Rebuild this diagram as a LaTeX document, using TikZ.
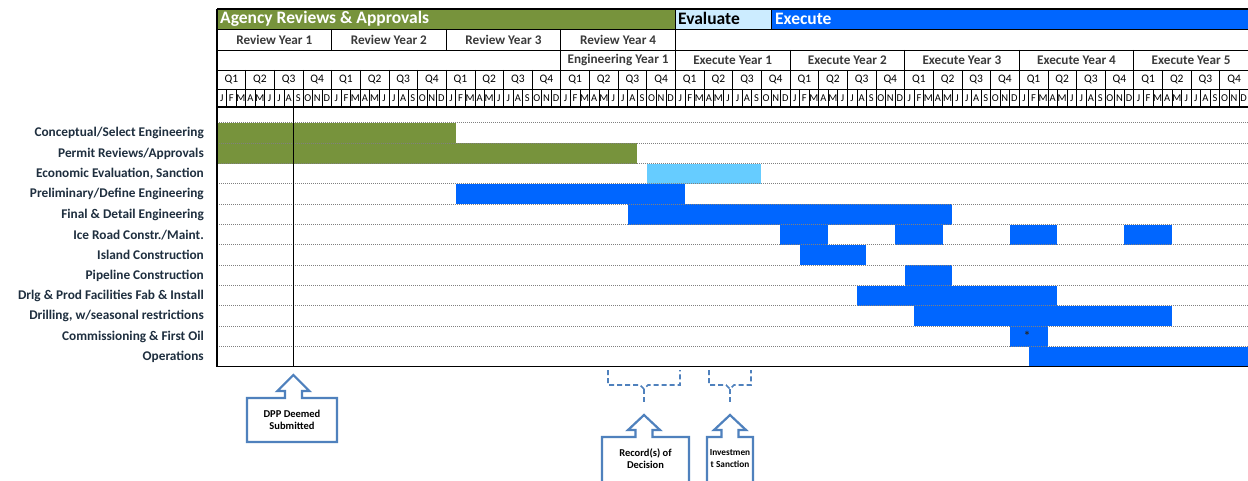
\documentclass[tikz,border=0pt]{standalone}
\usepackage{fontspec}
\setmainfont{Carlito}
\definecolor{agreen}{HTML}{77933C}
\definecolor{xblue}{HTML}{0066FF}
\definecolor{lblue}{HTML}{66CCFF}
\definecolor{evblue}{HTML}{CCECFF}
\definecolor{callout}{HTML}{4F81BD}
\definecolor{hdrtext}{HTML}{3A3A3A}
\definecolor{tasktext}{HTML}{1F2F3F}
\newcommand\mycallout[7]{%
  \draw[callbox] (#5,#4) -- ({#1-8.5},#4) -- ({#1-8.5},#3) -- ({#1-16},#3) -- (#1,#2)
    -- ({#1+16},#3) -- ({#1+8.5},#3) -- ({#1+8.5},#4) -- (#6,#4) -- (#6,#7) -- (#5,#7) -- cycle;}
\newcommand\mybracket[5]{%
  \draw[brk] (#1,#4) -- (#1,385) -- ({#3-4},385) -- (#3,389) -- ({#3+4},385) -- (#2,385) -- (#2,#4);
  \draw[brk] (#3,389) -- (#3,#5);}
\begin{document}
\begin{tikzpicture}[x=1pt,y=-1pt,
  hdr/.style={font=\bfseries\fontsize{13.2}{14}\selectfont, text=hdrtext, inner sep=0},
  qlab/.style={font=\fontsize{11.5}{12}\selectfont, text=black, inner sep=0},
  mlab/.style={font=\fontsize{10.5}{11}\selectfont, text=black, inner sep=0},
  task/.style={font=\bfseries\fontsize{13.3}{14}\selectfont, text=tasktext, anchor=east, inner sep=0},
  banner/.style={anchor=west, font=\bfseries\fontsize{17.5}{18}\selectfont, inner sep=0},
  callbox/.style={draw=callout, line width=2.2pt, fill=white, line join=miter},
  calltext/.style={font=\bfseries\fontsize{10.5}{12}\selectfont, align=center, text=black, inner sep=0},
  brk/.style={draw=callout, dash pattern=on 5pt off 3pt, line width=1.6pt},
  gridl/.style={line width=0.7pt, black},
  framel/.style={line width=1.8pt, black},
  dotl/.style={line width=1pt, black!50, densely dotted}
]
\def\Y{114.6}
\def\M{9.55}
\def\X{217}
\useasboundingbox (0,0) rectangle (1248,481);
\clip (0,0) rectangle (1248,481);
\fill[white] (0,0) rectangle (1248,481);

% ---- top banner row
\fill[agreen] (\X,9) rectangle ({\X+4*\Y},29);
\fill[evblue] ({\X+4*\Y},9) rectangle (771,29);
\fill[xblue] (771,9) rectangle (1252,29);
\node[banner, text=white] (agency) at (220,18.5) {Agency Reviews \& Approvals};
\node[banner, text=black] (evaluate) at (678,18.5) {Evaluate};
\node[banner, text=white] (execute) at (775,18.5) {Execute};
\draw[gridl] ({\X+4*\Y},9) -- ({\X+4*\Y},29);
\draw[gridl] (771,9) -- (771,29);

% ---- horizontal header lines
\foreach \yy in {29,50,70,89} \draw[gridl] (\X,\yy) -- (1252,\yy);

% ---- review years row
\foreach \i in {1,...,4} {
  \node[hdr] (rev\i) at ({\X+(\i-0.5)*\Y},39.5) {Review Year \i};
  \draw[gridl] ({\X+\i*\Y},29) -- ({\X+\i*\Y},50);
}
% ---- engineering / execute years row
\node[hdr] (eng1) at ({\X+3.5*\Y},60) {Engineering Year 1};
\draw[gridl] ({\X+3*\Y},50) -- ({\X+3*\Y},70);
\foreach \i in {1,...,5} {
  \node[hdr] (exe\i) at ({\X+(\i+3.5)*\Y},60) {Execute Year \i};
  \draw[gridl] ({\X+(\i+3)*\Y},50) -- ({\X+(\i+3)*\Y},70);
}
% ---- quarters row
\foreach \yy in {0,...,8} \foreach \q in {1,...,4} {
  \node[qlab] (q\yy-\q) at ({\X+\yy*\Y+(\q-0.5)*\Y/4},80) {Q\q};
  \draw[gridl] ({\X+\yy*\Y+\q*\Y/4},70) -- ({\X+\yy*\Y+\q*\Y/4},89);
}
% ---- months row
\foreach \yy in {0,...,8} \foreach \m [count=\k from 0] in {J,F,M,A,M,J,J,A,S,O,N,D} {
  \node[mlab] (m\yy-\k) at ({\X+(\yy*12+\k+0.5)*\M},98.5) {\m};
  \draw[gridl] ({\X+(\yy*12+\k+1)*\M},89) -- ({\X+(\yy*12+\k+1)*\M},107);
}

% ---- bars
\foreach \r/\s/\e/\c in {1/0/25/agreen, 2/0/44/agreen, 3/45/57/lblue, 4/25/49/xblue,
  5/43/77/xblue, 6/59/64/xblue, 6/71/76/xblue, 6/83/88/xblue, 6/95/100/xblue,
  7/61/68/xblue, 8/72/77/xblue, 9/67/88/xblue, 10/73/100/xblue, 11/83/87/xblue, 12/85/110/xblue}
  \fill[\c] ({\X+\s*\M},{123+(\r-1)*20.33}) rectangle ({\X+\e*\M},{123+\r*20.33});
\node[font=\bfseries\fontsize{13}{13}\selectfont, text=black!85, inner sep=0] (star) at (1027,335.5) {*};

% ---- dotted row lines
\foreach \r in {0,...,11} \draw[dotl] (\X,{123+\r*20.33}) -- (1250,{123+\r*20.33});

% ---- DPP line
\draw[line width=1pt] ({\X+8*\M},107) -- ({\X+8*\M},366.5);

% ---- frames
\draw[framel] (\X,9) -- (1252,9);
\draw[framel] (\X,107) -- (1252,107);
\draw[framel] (\X,366.5) -- (1252,366.5);
\draw[framel] (\X,9) -- (\X,366.5);

% ---- task labels
\foreach \t [count=\i] in {{Conceptual/Select Engineering}, {Permit Reviews/Approvals},
  {Economic Evaluation, Sanction}, {Preliminary/Define Engineering}, {Final \& Detail Engineering},
  {Ice Road Constr./Maint.}, {Island Construction}, {Pipeline Construction},
  {Drlg \& Prod Facilities Fab \& Install}, {Drilling, w/seasonal restrictions},
  {Commissioning \& First Oil}, {Operations}}
  \node[task] (task\i) at (204,{123+(\i-0.5)*20.33}) {\t};

% ---- callouts
\mycallout{293.4}{375}{391}{398}{247}{337}{442}
\node[calltext] (dpp) at (292,420) {DPP Deemed\\Submitted};

\mybracket{608}{680}{644}{370}{403}
\mycallout{644}{415}{430}{437}{602}{689}{492}
\node[calltext] (rod) at (645.5,459) {Record(s) of\\Decision};

\mybracket{709}{751}{730}{370}{403}
\mycallout{730}{415}{430}{437}{707}{753}{492}
\node[calltext, font=\bfseries\fontsize{9.3}{12}\selectfont] (inv) at (730,459) {Investmen\\t Sanction};
\end{tikzpicture}
\end{document}
